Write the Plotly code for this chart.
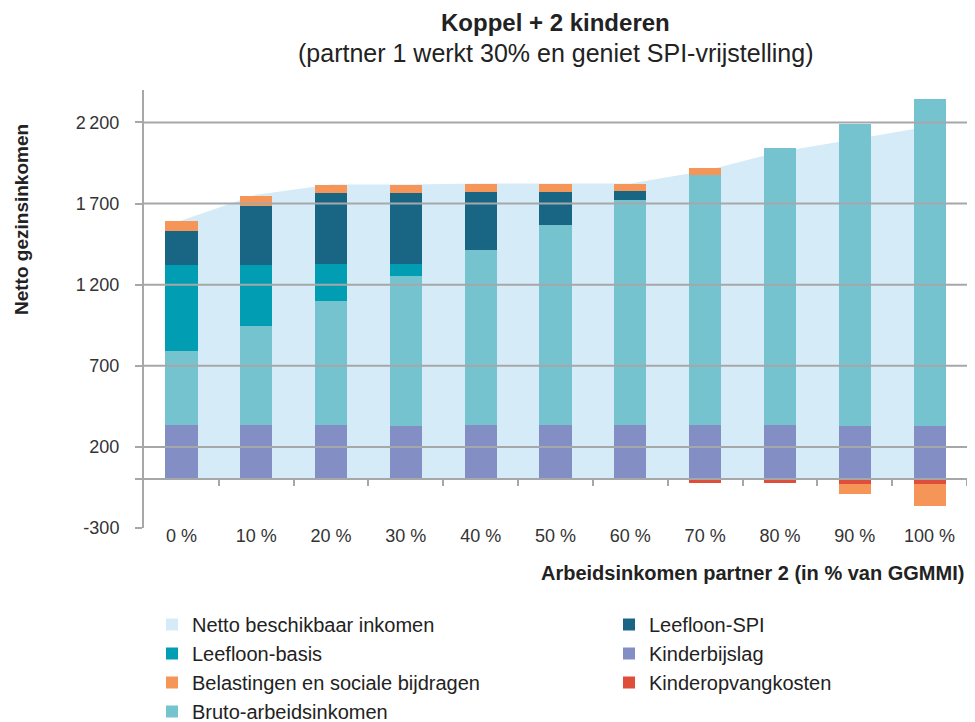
import plotly.graph_objects as go

# ---------------- data ----------------
categories = ["0 %", "10 %", "20 %", "30 %", "40 %", "50 %", "60 %", "70 %", "80 %", "90 %", "100 %"]
kinderbijslag = [336, 336, 336, 330, 336, 336, 336, 336, 336, 330, 330]
bruto_arbeidsinkomen = [457, 611, 765, 925, 1080, 1234, 1389, 1541, 1704, 1858, 2012]
leefloon_basis = [530, 376, 228, 74, 0, 0, 0, 0, 0, 0, 0]
leefloon_spi = [210, 365, 438, 438, 358, 204, 55, 0, 0, 0, 0]
kinderopvangkosten = [0, 0, 0, 0, 0, 0, 0, -20, -20, -30, -30]
belastingen = [62, 61, 50, 50, 49, 49, 43, 45, 0, -62, -136]
netto_beschikbaar = [1595, 1755, 1817, 1817, 1823, 1823, 1823, 1902, 2020, 2096, 2176]

y_tickvals = [-300, 0, 200, 700, 1200, 1700, 2200]
y_ticktext = ["-300", "", "200", "700", "1\u2009200", "1\u2009700", "2\u2009200"]
grid_values = [200, 700, 1200, 1700, 2200]
y_range = [-300, 2400]

# ---------------- styles ----------------
FONT = "Liberation Sans, Arial, Helvetica, sans-serif"
GRID = "#A6A7A9"
C_NETTO = "#D5ECF8"
C_BASIS = "#009DB3"
C_SPI = "#196684"
C_KINDER = "#828EC4"
C_BELAST = "#F69558"
C_OPVANG = "#DE4E3B"
C_BRUTO = "#76C3D0"

# page body has an 8px margin -> figure is 8px smaller than the window
W, H = 967, 714

x_idx = list(range(len(categories)))
BAR_W = 0.43

fig = go.Figure()

# Area (main axes, drawn below the overlay bars)
fig.add_trace(go.Scatter(
    x=x_idx, y=netto_beschikbaar, mode="lines", fill="tozeroy",
    fillcolor=C_NETTO, line=dict(width=0, color=C_NETTO),
    name="Netto beschikbaar inkomen", showlegend=False,
    xaxis="x", yaxis="y", hoverinfo="skip"))

# square legend swatch for the area series
fig.add_trace(go.Bar(
    x=x_idx, y=[None] * len(x_idx), name="Netto beschikbaar inkomen",
    marker=dict(color=C_NETTO, line=dict(width=0)), width=BAR_W,
    xaxis="x2", yaxis="y2", legend="legend", legendrank=1, legendgroup="netto",
    hoverinfo="skip"))

def add_bar(vals, name, color, legend, rank):
    fig.add_trace(go.Bar(
        x=x_idx, y=vals, name=name, marker=dict(color=color, line=dict(width=0)),
        width=BAR_W, xaxis="x2", yaxis="y2", legend=legend, legendrank=rank,
        legendgroup=name))

add_bar(kinderbijslag, "Kinderbijslag", C_KINDER, "legend2", 2)
add_bar(bruto_arbeidsinkomen, "Bruto-arbeidsinkomen", C_BRUTO, "legend", 4)
add_bar(leefloon_basis, "Leefloon-basis", C_BASIS, "legend", 2)
add_bar(leefloon_spi, "Leefloon-SPI", C_SPI, "legend2", 1)
add_bar(kinderopvangkosten, "Kinderopvangkosten", C_OPVANG, "legend2", 3)
add_bar(belastingen, "Belastingen en sociale bijdragen", C_BELAST, "legend", 3)

# gridlines above the bars
shapes = []
for v in grid_values:
    shapes.append(dict(type="line", xref="paper", x0=0, x1=1, yref="y", y0=v, y1=v,
                       line=dict(color=GRID, width=2), layer="above"))

zero_pos = (0 - y_range[0]) / (y_range[1] - y_range[0])
boundaries = [i + 0.5 for i in x_idx]

legend_common = dict(font=dict(family=FONT, size=20, color="#222222"),
                     bgcolor="rgba(0,0,0,0)", orientation="v",
                     xref="container", yref="container", xanchor="left", yanchor="top",
                     tracegroupgap=5.3, traceorder="normal")

fig.update_layout(
    width=W, height=H,
    margin=dict(l=136, r=8, t=82, b=194, autoexpand=False),
    paper_bgcolor="white", plot_bgcolor="white",
    barmode="relative", bargap=0,
    font=dict(family=FONT, color="#333333"),
    showlegend=True,
    legend=dict(x=144 / W, y=1 - 597 / H, **legend_common),
    legend2=dict(x=601 / W, y=1 - 597 / H, **legend_common),
    xaxis=dict(range=[-0.5, 10.5], tickmode="array", tickvals=x_idx, ticktext=categories,
               anchor="free", position=5 / 438,
               showgrid=False, zeroline=False, showline=False, ticks="",
               tickfont=dict(family=FONT, size=18, color="#333333")),
    xaxis2=dict(overlaying="x", range=[-0.5, 10.5], anchor="free", position=zero_pos,
                side="bottom", showline=True, linecolor=GRID, linewidth=2,
                ticks="outside", ticklen=6, tickwidth=2, tickcolor=GRID,
                tickmode="array", tickvals=boundaries, showticklabels=False,
                showgrid=False, zeroline=False, layer="above traces"),
    yaxis=dict(range=y_range, tickmode="array", tickvals=y_tickvals, ticktext=y_ticktext,
               showgrid=False, zeroline=False, showline=True, linecolor=GRID, linewidth=2,
               ticks="outside", ticklen=7, tickwidth=2, tickcolor=GRID,
               ticklabelstandoff=12,
               tickfont=dict(family=FONT, size=18, color="#333333")),
    yaxis2=dict(overlaying="y", range=y_range, visible=False),
    shapes=shapes,
    annotations=[
        dict(text="<b>Koppel + 2 kinderen</b>", xref="paper", yref="paper",
             x=0.5, y=(528 - 23) / 438, xanchor="center", yanchor="middle", showarrow=False,
             font=dict(family=FONT, size=24, color="#222222")),
        dict(text="(partner 1 werkt 30% en geniet SPI-vrijstelling)", xref="paper", yref="paper",
             x=0.5, y=(528 - 53) / 438, xanchor="center", yanchor="middle", showarrow=False,
             font=dict(family=FONT, size=25, color="#222222")),
        dict(text="<b>Netto gezinsinkomen</b>", xref="paper", yref="paper",
             x=(21 - 144) / 823, y=(528 - 220) / 438, xanchor="center", yanchor="middle",
             textangle=-90, showarrow=False,
             font=dict(family=FONT, size=19, color="#222222")),
        dict(text="<b>Arbeidsinkomen partner 2 (in % van GGMMI)</b>", xref="paper", yref="paper",
             x=(966 - 144) / 823, y=(528 - 573) / 438, xanchor="right", yanchor="middle",
             showarrow=False, font=dict(family=FONT, size=20, color="#222222")),
    ],
)

fig.write_html("out.html")
